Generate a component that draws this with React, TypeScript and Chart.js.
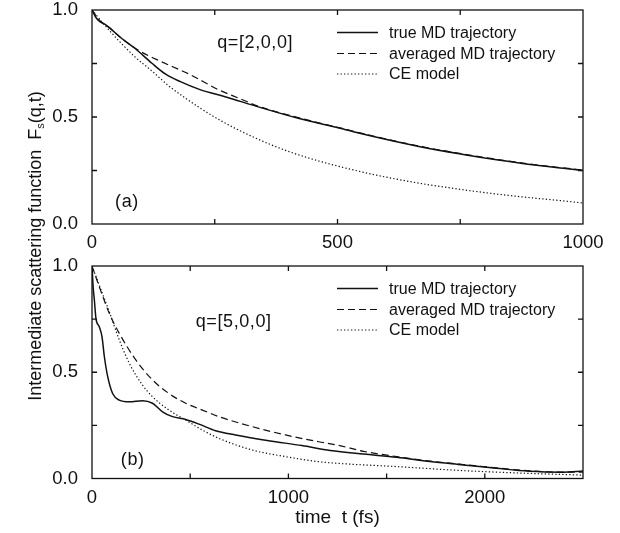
import React, { useEffect, useRef } from "react";
import { Chart, registerables } from "chart.js";
Chart.register(...registerables);

const FONT = '"Liberation Sans", Arial, Helvetica, sans-serif';
const INK = "#111";

// ---------- Panel (a): q=[2,0,0], t in fs ----------
const tTrueA = [0, 8, 16, 25, 37, 60, 88, 122, 150, 180, 220, 271, 342, 420, 505, 580, 668, 756, 824, 892, 960, 1000];
const fTrueA = [1.0, 0.965, 0.945, 0.935, 0.914, 0.868, 0.82, 0.751, 0.70, 0.665, 0.628, 0.595, 0.545, 0.494, 0.447, 0.405, 0.361, 0.325, 0.30, 0.278, 0.26, 0.25];
const tAvgA = [0, 16, 37, 60, 98, 132, 200, 257, 300, 339, 420, 505, 580, 668, 756, 824, 892, 960, 1000];
const fAvgA = [1.0, 0.95, 0.915, 0.868, 0.807, 0.768, 0.698, 0.628, 0.587, 0.55, 0.497, 0.449, 0.407, 0.363, 0.327, 0.302, 0.28, 0.262, 0.252];
const tCeA = [0, 37, 88, 122, 155, 189, 257, 325, 393, 461, 505, 580, 668, 756, 824, 892, 960, 1000];
const fCeA = [1.0, 0.9, 0.78, 0.715, 0.648, 0.59, 0.49, 0.41, 0.345, 0.295, 0.268, 0.228, 0.19, 0.16, 0.14, 0.123, 0.108, 0.098];

// ---------- Panel (b): q=[5,0,0] ----------
const tTrueB = [0, 6, 12, 20, 37, 51, 63, 80, 105, 139, 190, 257, 308, 359, 410, 477, 545, 629, 731, 900, 1069, 1213, 1382, 1552, 1721, 1890, 2059, 2228, 2397, 2500];
const fTrueB = [1.0, 0.9, 0.84, 0.754, 0.714, 0.667, 0.573, 0.479, 0.40, 0.369, 0.361, 0.366, 0.354, 0.314, 0.291, 0.278, 0.256, 0.225, 0.205, 0.178, 0.155, 0.132, 0.115, 0.10, 0.08, 0.064, 0.048, 0.034, 0.03, 0.035];
const tAvgB = [0, 37, 88, 139, 223, 308, 392, 477, 562, 646, 816, 985, 1154, 1255, 1382, 1552, 1721, 1890, 2059, 2228, 2397, 2500];
const fAvgB = [1.0, 0.903, 0.777, 0.683, 0.558, 0.464, 0.40, 0.354, 0.322, 0.291, 0.244, 0.205, 0.173, 0.156, 0.128, 0.103, 0.082, 0.066, 0.05, 0.036, 0.03, 0.03];
const tCeB = [0, 37, 88, 139, 190, 257, 308, 392, 477, 562, 646, 816, 985, 1154, 1255, 1552, 1890, 2228, 2500];
const fCeB = [1.0, 0.91, 0.785, 0.652, 0.542, 0.44, 0.385, 0.322, 0.275, 0.228, 0.189, 0.134, 0.103, 0.079, 0.071, 0.056, 0.037, 0.024, 0.016];

const seriesNames = ["true MD trajectory", "averaged MD trajectory", "CE model"];
const yTickValues = [0, 0.5, 1.0];
const yMinor = [0.25, 0.5, 0.75];
const xTicksA = [0, 500, 1000];
const xMinorA = [250, 500, 750];
const xTicksB = [0, 1000, 2000];
const xMinorB = [500, 1000, 1500, 2000];

const styles = [
  { borderWidth: 1.5, borderDash: [] as number[] },
  { borderWidth: 1.2, borderDash: [7, 4] },
  { borderWidth: 1.2, borderDash: [1.3, 2.2] },
];

function pts(t: number[], f: number[]) {
  return t.map((x, i) => ({ x, y: f[i] }));
}

const decorPlugin = {
  id: "decor",
  afterDatasetsDraw(chart: any, _args: any, opts: any) {
    const { ctx, chartArea: a, scales } = chart;
    ctx.save();
    ctx.strokeStyle = INK;
    ctx.lineWidth = 1.3;
    ctx.setLineDash([]);
    ctx.strokeRect(a.left, a.top, a.right - a.left, a.bottom - a.top);
    const L = 5;
    ctx.beginPath();
    opts.xMinor.forEach((v: number) => {
      const x = scales.x.getPixelForValue(v);
      ctx.moveTo(x, a.bottom); ctx.lineTo(x, a.bottom - L);
      ctx.moveTo(x, a.top); ctx.lineTo(x, a.top + L);
    });
    opts.yMinor.forEach((v: number) => {
      const y = scales.y.getPixelForValue(v);
      ctx.moveTo(a.left, y); ctx.lineTo(a.left + L, y);
      ctx.moveTo(a.right, y); ctx.lineTo(a.right - L, y);
    });
    ctx.stroke();

    // annotations
    ctx.fillStyle = INK;
    ctx.font = `18px ${FONT}`;
    ctx.textBaseline = "middle";
    ctx.textAlign = "left";
    try { (ctx as any).letterSpacing = "0.6px"; } catch (e) {}
    opts.notes.forEach((n: any) => {
      ctx.fillText(n.text, scales.x.getPixelForValue(n.x), scales.y.getPixelForValue(n.y));
    });
    try { (ctx as any).letterSpacing = "0px"; } catch (e) {}

    // legend
    ctx.font = `16px ${FONT}`;
    const rows = [22.5, 43.5, 64];
    chart.data.datasets.forEach((ds: any, i: number) => {
      const y = a.top + rows[i];
      ctx.save();
      ctx.lineWidth = ds.borderWidth;
      ctx.setLineDash(ds.borderDash || []);
      ctx.beginPath();
      ctx.moveTo(a.right - 246, y);
      ctx.lineTo(a.right - 205, y);
      ctx.stroke();
      ctx.restore();
      ctx.fillText(ds.label, a.right - 194, y + 1);
    });
    ctx.restore();
  },
};

function makeConfig(
  data: { t: number[]; f: number[] }[],
  xMax: number,
  xTicks: number[],
  xMinor: number[],
  notes: any[],
  padTop: number,
  xHeight: number,
  xTitle: string | null
) {
  return {
    type: "line",
    data: {
      datasets: data.map((d, i) => ({
        label: seriesNames[i],
        data: pts(d.t, d.f),
        borderColor: INK,
        borderWidth: styles[i].borderWidth,
        borderDash: styles[i].borderDash,
        pointRadius: 0,
        fill: false,
        cubicInterpolationMode: "monotone",
      })),
    },
    options: {
      responsive: false,
      animation: false,
      devicePixelRatio: 1,
      layout: { padding: { left: 0, top: padTop, right: 37, bottom: 0 } },
      plugins: {
        legend: { display: false },
        tooltip: { enabled: false },
        decor: { xMinor, yMinor, notes },
      },
      scales: {
        x: {
          type: "linear",
          min: 0,
          max: xMax,
          grid: { display: false, drawTicks: false },
          border: { display: false },
          afterBuildTicks: (s: any) => { s.ticks = xTicks.map((v) => ({ value: v })); },
          afterFit: (s: any) => {
            s.height = xHeight;
            s.paddingLeft = 0; s.paddingRight = 0; s.paddingTop = 0; s.paddingBottom = 0;
          },
          ticks: {
            color: INK,
            font: { family: FONT, size: 18.5 },
            padding: 8,
            maxRotation: 0,
            autoSkip: false,
            callback: (v: number) => String(v),
          },
          title: xTitle
            ? { display: true, text: xTitle, color: INK, font: { family: FONT, size: 19 }, padding: { top: 0, bottom: 4 } }
            : { display: false },
        },
        y: {
          type: "linear",
          min: 0,
          max: 1,
          grid: { display: false, drawTicks: false },
          border: { display: false },
          afterBuildTicks: (s: any) => { s.ticks = yTickValues.map((v) => ({ value: v })); },
          afterFit: (s: any) => {
            s.width = 92;
            s.paddingLeft = 0; s.paddingRight = 0; s.paddingTop = 0; s.paddingBottom = 0;
          },
          ticks: {
            color: INK,
            font: { family: FONT, size: 18.5 },
            padding: 14,
            callback: (v: number) => v.toFixed(1),
          },
        },
      },
    },
    plugins: [decorPlugin],
  } as any;
}

export default function App() {
  const topRef = useRef<HTMLCanvasElement>(null);
  const botRef = useRef<HTMLCanvasElement>(null);

  useEffect(() => {
    const c1 = new Chart(
      topRef.current!,
      makeConfig(
        [
          { t: tTrueA, f: fTrueA },
          { t: tAvgA, f: fAvgA },
          { t: tCeA, f: fCeA },
        ],
        1000,
        xTicksA,
        xMinorA,
        [
          { text: "q=[2,0,0]", x: 255, y: 0.846 },
          { text: "(a)", x: 47, y: 0.103 },
        ],
        10,
        26,
        null
      )
    );
    const c2 = new Chart(
      botRef.current!,
      makeConfig(
        [
          { t: tTrueB, f: fTrueB },
          { t: tAvgB, f: fAvgB },
          { t: tCeB, f: fCeB },
        ],
        2500,
        xTicksB,
        xMinorB,
        [
          { text: "q=[5,0,0]", x: 528, y: 0.736 },
          { text: "(b)", x: 147, y: 0.087 },
        ],
        16,
        54.5,
        "time  t (fs)"
      )
    );
    return () => {
      c1.destroy();
      c2.destroy();
    };
  }, []);

  return (
    <div style={{ position: "absolute", left: 0, top: 0, width: 620, height: 533, background: "#fff", overflow: "hidden" }}>
      <canvas ref={topRef} width={620} height={250} style={{ position: "absolute", left: 0, top: 0, width: 620, height: 250 }} />
      <canvas ref={botRef} width={620} height={283} style={{ position: "absolute", left: 0, top: 250, width: 620, height: 283 }} />
      <div
        style={{
          position: "absolute",
          left: 35 - 200,
          top: 246 - 11,
          width: 400,
          height: 22,
          lineHeight: "22px",
          textAlign: "center",
          transform: "rotate(-90deg)",
          fontFamily: FONT,
          fontSize: 18,
          color: INK,
          whiteSpace: "nowrap",
        }}
      >
        Intermediate scattering function{"\u00a0\u00a0"}F<sub style={{ fontSize: 11, verticalAlign: "-3px" }}>s</sub>(q,t)
      </div>
    </div>
  );
}
